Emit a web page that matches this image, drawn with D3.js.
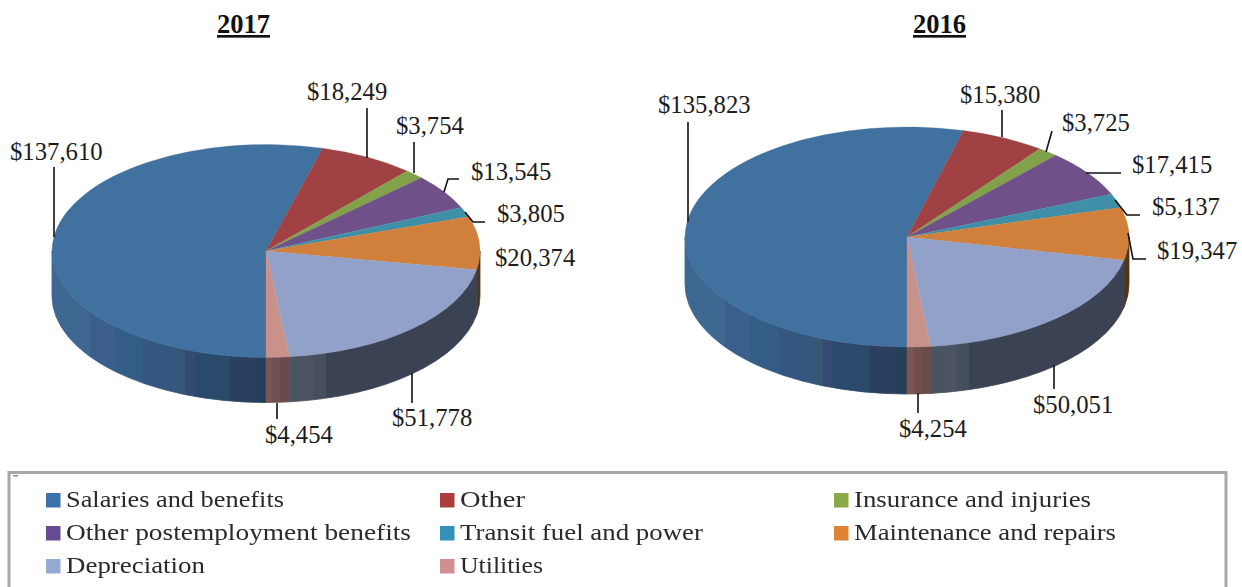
<!DOCTYPE html>
<html><head><meta charset="utf-8">
<script src="https://cdn.jsdelivr.net/npm/d3@7/dist/d3.min.js"></script>
<style>html,body{margin:0;padding:0;background:#fff;overflow:hidden}svg{display:block}</style>
</head><body><svg id="c" width="1242" height="587"></svg>
<script>
const categories = ["Salaries and benefits","Other","Insurance and injuries","Other postemployment benefits","Transit fuel and power","Maintenance and repairs","Depreciation","Utilities"];
const values2017 = [137610,18249,3754,13545,3805,20374,51778,4454];
const values2016 = [135823,15380,3725,17415,5137,19347,50051,4254];
const years = ["2017","2016"];

const topColors = ["#41719f","#a04243","#82a24a","#6f5089","#3f8fa8","#d0803a","#92a1c8","#c8918a"];
const legendColors = ["#3b72ab","#ad3d3d","#8aa94a","#664b90","#3391b5","#de8334","#94a9d3","#cf9090"];
const legendWidths = [218,65,237,345,243,262,139,83];
const wallBands = [
  [[-1,"#3e6791"],[-.822,"#3c5e8c"],[-.706,"#345d86"],[-.575,"#34567f"],[-.425,"#365875"],[-.379,"#344a70"],[-.332,"#2a4a6b"],[-.168,"#2b3f60"],[-.051,"#233f59"]],
  [[-1,"#6a3030"]],[[-1,"#5f7a35"]],[[-1,"#50386a"]],[[-1,"#2c6a7c"]],[[-1,"#53341a"]],
  [[0,"#46555f"],[.16,"#4d5265"],[.22,"#454f5e"],[.28,"#3b4254"]],
  [[0,"#7a5650"],[.03,"#714f50"],[.065,"#6b4a4e"]]
];

const charts = [
  {year:years[0],values:values2017,cx:266,cy:251,rx:214,ry:106.5,depth:45,titleX:243.5,
   labels:[[10,160],[307,100],[396,134],[471,180],[497,222],[495,266],[392,426],[265,443]],
   leaders:[[[54,167],[54,237]],[[367,108],[367,158]],[[414,142],[414,173]],[[444,192],[448,179],[459,179]],[[465,212],[473,222],[485,222]],[],[[412,373],[412,403]],[[277,403],[277,419]]]},
  {year:years[1],values:values2016,cx:907,cy:237,rx:222,ry:110,depth:47,titleX:939.5,
   labels:[[658,113],[960,103],[1062,131],[1132,173],[1152,215],[1157,259],[1033,413],[899,437]],
   leaders:[[[688,122],[688,222]],[[1002,110],[1002,137]],[[1052,131],[1046,152]],[[1086,173],[1121,173]],[[1115,200],[1127,215],[1140,215]],[[1128,233],[1133,259],[1146,259]],[[1054,365],[1054,389]],[[918,393],[918,413]]]}
];

const svg = d3.select("#c");
const defs = svg.append("defs");
defs.append("filter").attr("id","soft").append("feGaussianBlur").attr("stdDeviation",0.35);
const serif = "'Liberation Serif','Times New Roman',serif";
const money = d3.format("$,");
const pie = d3.pie().sort(null).startAngle(Math.PI).endAngle(3*Math.PI);
const frontHalf = [[Math.PI,1.5*Math.PI],[2.5*Math.PI,3*Math.PI]];

charts.forEach((ch,ci)=>{
  const g = svg.append("g");
  const arcs = pie(ch.values);
  const px = (a,dy=0)=>[ch.cx+ch.rx*Math.sin(a), ch.cy-ch.ry*Math.cos(a)+dy];
  // side walls: only the part of each slice on the front half
  arcs.forEach((d,i)=>{
    const id = `w${ci}_${i}`;
    const grad = defs.append("linearGradient").attr("id",id).attr("gradientUnits","userSpaceOnUse")
      .attr("x1",ch.cx-ch.rx).attr("x2",ch.cx+ch.rx).attr("y1",0).attr("y2",0);
    const bands = wallBands[i];
    bands.forEach((b,k)=>{
      const start=(b[0]+1)/2, end = k<bands.length-1 ? (bands[k+1][0]+1)/2 : 1;
      grad.append("stop").attr("offset",start).attr("stop-color",b[1]);
      grad.append("stop").attr("offset",end).attr("stop-color",b[1]);
    });
    frontHalf.forEach(([f0,f1])=>{
      const a0=Math.max(d.startAngle,f0), a1=Math.min(d.endAngle,f1);
      if(a1<=a0) return;
      const t0=px(a0), t1=px(a1), b1=px(a1,ch.depth), b0=px(a0,ch.depth);
      const ds=`M${t0}A${ch.rx},${ch.ry} 0 0 1 ${t1}L${b1}A${ch.rx},${ch.ry} 0 0 0 ${b0}Z`;
      g.append("path").attr("d",ds).attr("fill",`url(#${id})`)
       .attr("stroke",`url(#${id})`).attr("stroke-width",0.8);
    });
  });
  // top face
  const arc = d3.arc().innerRadius(0).outerRadius(ch.rx);
  const top = g.append("g").attr("transform",`translate(${ch.cx},${ch.cy}) scale(1,${ch.ry/ch.rx})`);
  top.selectAll("path").data(arcs).join("path").attr("d",arc).attr("fill",(d,i)=>topColors[i])
    .attr("stroke",(d,i)=>topColors[i]).attr("stroke-width",0.4);
  // leaders
  const line = d3.line();
  ch.leaders.forEach(l=>{ if(l.length) g.append("path").attr("d",line(l)).attr("fill","none").attr("stroke","#111").attr("stroke-width",1.6); });
  // value labels
  ch.values.forEach((v,i)=>{
    g.append("text").attr("x",ch.labels[i][0]).attr("y",ch.labels[i][1]).text(money(v))
     .attr("font-family",serif).attr("font-size",24.7).attr("fill","#1c1c1c");
  });
  // title
  svg.append("text").attr("x",ch.titleX).attr("y",33).attr("text-anchor","middle").text(ch.year)
    .attr("font-family",serif).attr("font-size",26.5).attr("font-weight","bold").attr("text-decoration","underline").attr("fill","#111");
});

// legend box
svg.append("path").attr("d","M9,587V472.5H1226V587").attr("fill","none").attr("stroke","#a8a8a8").attr("stroke-width",3);
svg.append("rect").attr("x",13).attr("y",475).attr("width",5).attr("height",1.5).attr("fill","#8a8a8a");
const colX = [46,440,834], rowY = [500,533,566];
const lg = svg.append("g").attr("filter","url(#soft)");
categories.forEach((c,i)=>{
  const x=colX[i%3], y=rowY[Math.floor(i/3)];
  lg.append("rect").attr("x",x).attr("y",y-7).attr("width",14.5).attr("height",14.5).attr("fill",legendColors[i]);
  lg.append("text").attr("x",x+20).attr("y",y+6.5).text(c)
    .attr("textLength",legendWidths[i]).attr("lengthAdjust","spacingAndGlyphs")
    .attr("font-family",serif).attr("font-size",23).attr("fill","#2a2a2a");
});
</script></body></html>
